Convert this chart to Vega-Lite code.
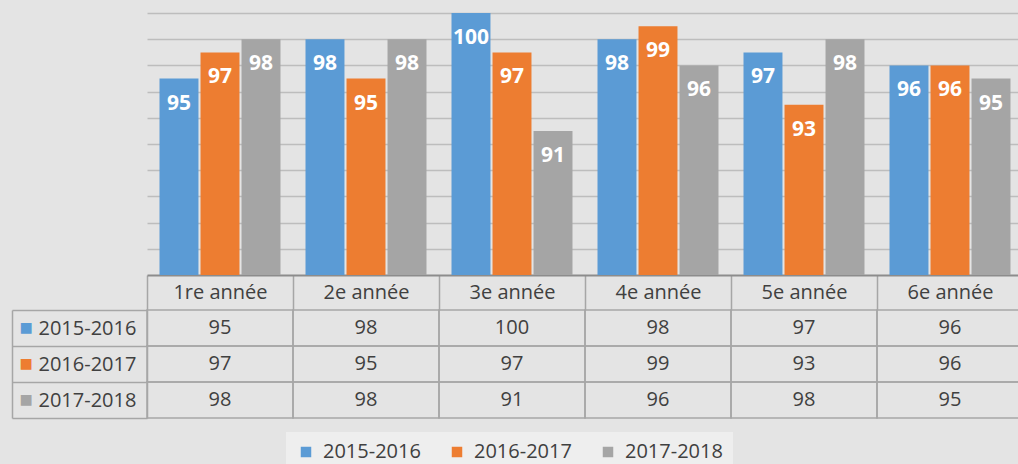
{
  "$schema": "https://vega.github.io/schema/vega-lite/v6.json",
  "background": "#e4e4e4",
  "padding": {"left": 11, "top": 0, "right": 0, "bottom": 0},
  "autosize": {"type": "pad"},
  "bounds": "flush",
  "spacing": 35,
  "datasets": {
    "scores": [
      {"annee": "1re année", "periode": "2015-2016", "taux": 95},
      {"annee": "1re année", "periode": "2016-2017", "taux": 97},
      {"annee": "1re année", "periode": "2017-2018", "taux": 98},
      {"annee": "2e année", "periode": "2015-2016", "taux": 98},
      {"annee": "2e année", "periode": "2016-2017", "taux": 95},
      {"annee": "2e année", "periode": "2017-2018", "taux": 98},
      {"annee": "3e année", "periode": "2015-2016", "taux": 100},
      {"annee": "3e année", "periode": "2016-2017", "taux": 97},
      {"annee": "3e année", "periode": "2017-2018", "taux": 91},
      {"annee": "4e année", "periode": "2015-2016", "taux": 98},
      {"annee": "4e année", "periode": "2016-2017", "taux": 99},
      {"annee": "4e année", "periode": "2017-2018", "taux": 96},
      {"annee": "5e année", "periode": "2015-2016", "taux": 97},
      {"annee": "5e année", "periode": "2016-2017", "taux": 93},
      {"annee": "5e année", "periode": "2017-2018", "taux": 98},
      {"annee": "6e année", "periode": "2015-2016", "taux": 96},
      {"annee": "6e année", "periode": "2016-2017", "taux": 96},
      {"annee": "6e année", "periode": "2017-2018", "taux": 95}
    ]
  },
  "vconcat": [
    {
      "width": 876,
      "height": 275,
      "data": {"name": "scores"},
      "encoding": {
        "x": {
          "field": "annee",
          "type": "nominal",
          "sort": null,
          "scale": {"paddingInner": 0, "paddingOuter": 0},
          "axis": {
            "title": null,
            "orient": "bottom",
            "labelAngle": 0,
            "tickBand": "extent",
            "tickSize": 35,
            "tickColor": "#a6a6a6",
            "tickWidth": 1.5,
            "domainColor": "#8c8c8c",
            "domainWidth": 2,
            "labelPadding": -28,
            "labelBaseline": "top",
            "labelFont": "Open Sans",
            "labelFontSize": 20,
            "labelColor": "#404040",
            "grid": false
          }
        },
        "xOffset": {
          "field": "periode",
          "type": "nominal",
          "scale": {"paddingInner": 0.05, "paddingOuter": 0.305}
        },
        "y": {
          "field": "taux",
          "type": "quantitative",
          "scale": {"domain": [80, 101], "nice": false, "zero": false},
          "axis": {
            "title": null,
            "labels": false,
            "ticks": false,
            "domain": false,
            "grid": true,
            "gridColor": "#bdbdbd",
            "gridWidth": 1.3,
            "values": [82, 84, 86, 88, 90, 92, 94, 96, 98, 100]
          }
        }
      },
      "layer": [
        {
          "mark": {"type": "bar", "clip": true},
          "encoding": {
            "y2": {"datum": 80},
            "color": {
              "field": "periode",
              "type": "nominal",
              "scale": {
                "domain": ["2015-2016", "2016-2017", "2017-2018"],
                "range": ["#5b9bd5", "#ed7d31", "#a5a5a5"]
              },
              "legend": {
                "title": null,
                "orient": "none",
                "direction": "horizontal",
                "legendX": 139,
                "legendY": 432,
                "symbolType": "square",
                "symbolSize": 110,
                "symbolStrokeWidth": 0,
                "labelFont": "Open Sans",
                "labelFontSize": 20,
                "labelColor": "#404040",
                "labelOffset": 7,
                "columnPadding": 26,
                "fillColor": "#eeeeee",
                "padding": 10
              }
            }
          }
        },
        {
          "mark": {
            "type": "text",
            "baseline": "middle",
            "align": "center",
            "dy": 25,
            "color": "white",
            "font": "Open Sans",
            "fontWeight": "bold",
            "fontSize": 21
          },
          "encoding": {"text": {"field": "taux", "type": "quantitative"}}
        }
      ]
    },
    {
      "width": 876,
      "height": 108,
      "data": {"name": "scores"},
      "encoding": {
        "x": {
          "field": "annee",
          "type": "nominal",
          "sort": null,
          "scale": {"paddingInner": 0, "paddingOuter": 0},
          "axis": null
        }
      },
      "layer": [
        {
          "mark": {"type": "rect", "fill": "transparent", "stroke": "#a6a6a6", "strokeWidth": 1.5},
          "encoding": {
            "y": {
              "field": "periode",
              "type": "nominal",
              "scale": {"paddingInner": 0, "paddingOuter": 0},
              "axis": {
                "title": null,
                "orient": "left",
                "tickBand": "extent",
                "tickSize": 135,
                "tickColor": "#a6a6a6",
                "tickWidth": 1.5,
                "domainColor": "#a6a6a6",
                "domainWidth": 1.5,
                "labelAlign": "left",
                "labelPadding": -26,
                "labelFont": "Open Sans",
                "labelFontSize": 20,
                "labelColor": "#404040"
              }
            }
          }
        },
        {
          "mark": {"type": "text", "font": "Open Sans", "fontSize": 20, "color": "#404040", "baseline": "middle"},
          "encoding": {
            "y": {
              "field": "periode",
              "type": "nominal",
              "axis": {
                "title": null,
                "orient": "left",
                "offset": 135,
                "ticks": false,
                "domainColor": "#a6a6a6",
                "domainWidth": 1.5,
                "labelExpr": "'■'",
                "labelAlign": "left",
                "labelPadding": -7,
                "labelFontSize": 22,
                "labelColor": {
                  "condition": [
                    {"test": "datum.value === '2015-2016'", "value": "#5b9bd5"},
                    {"test": "datum.value === '2016-2017'", "value": "#ed7d31"}
                  ],
                  "value": "#a5a5a5"
                }
              }
            },
            "text": {"field": "taux", "type": "quantitative"}
          }
        }
      ],
      "resolve": {"axis": {"y": "independent"}}
    }
  ],
  "config": {
    "view": {"stroke": null},
    "font": "Open Sans"
  }
}
